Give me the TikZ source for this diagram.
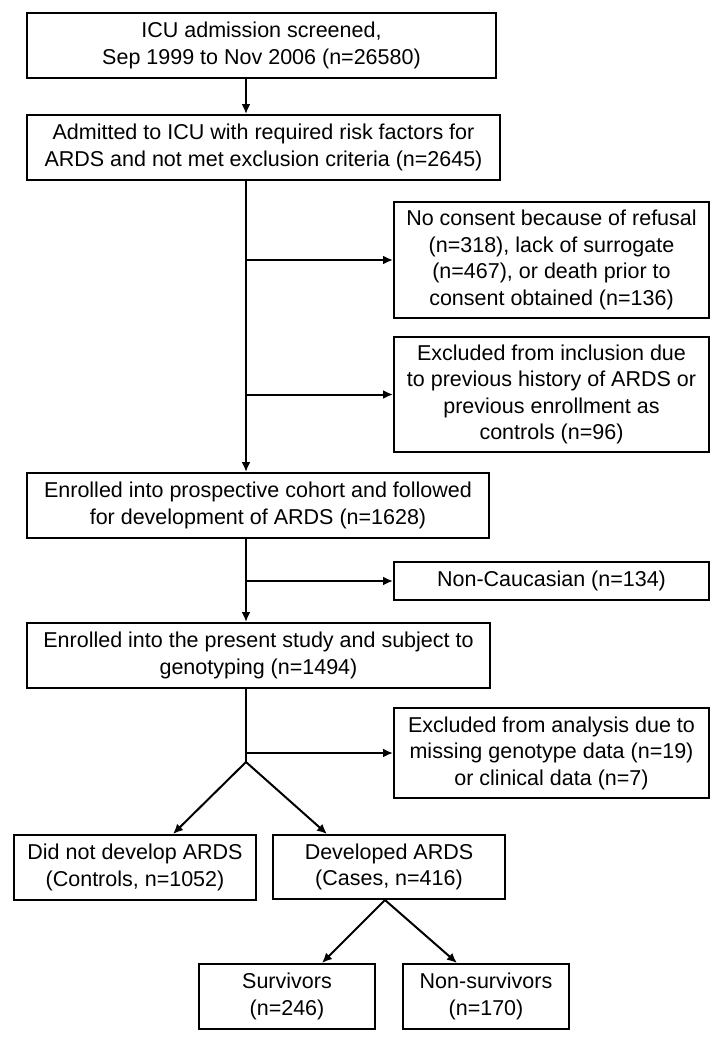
\documentclass[tikz,border=0pt]{standalone}
\usepackage{fontspec}
\setmainfont{Liberation Sans}
\usetikzlibrary{arrows.meta,calc}
\tikzset{font={\fontsize{21.5pt}{26.5pt}\selectfont}}

\begin{document}
\begin{tikzpicture}[x=1pt,y=-1pt,
box/.style={draw,line width=2pt,align=center,inner sep=0pt},
arr/.style={line width=2pt,-{Latex[length=10pt,width=9pt]}}
]
\useasboundingbox (0,0) rectangle (723,1050);

\node[box,minimum width=469pt,minimum height=65pt] (screen) at (261.5,45.5) {ICU admission screened,\\Sep 1999 to Nov 2006 (n=26580)};
\node[box,minimum width=473pt,minimum height=65pt] (admit) at (263.5,147.5) {Admitted to ICU with required risk factors for\\ARDS and not met exclusion criteria (n=2645)};
\node[box,minimum width=315pt,minimum height=116pt] (consent) at (551.5,260) {No consent because of refusal\\(n=318), lack of surrogate\\(n=467), or death prior to\\consent obtained (n=136)};
\node[box,minimum width=315pt,minimum height=115pt] (inclusion) at (551.5,394.5) {Excluded from inclusion due\\to previous history of ARDS or\\previous enrollment as\\controls (n=96)};
\node[box,minimum width=462pt,minimum height=65pt] (cohort) at (258,505.5) {Enrolled into prospective cohort and followed\\for development of ARDS (n=1628)};
\node[box,minimum width=315pt,minimum height=38pt] (noncauc) at (551.5,581) {Non-Caucasian (n=134)};
\node[box,minimum width=463pt,minimum height=65pt] (present) at (258.5,655.5) {Enrolled into the present study and subject to\\genotyping (n=1494)};
\node[box,minimum width=315pt,minimum height=90pt] (analysis) at (551.5,753) {Excluded from analysis due to\\missing genotype data (n=19)\\or clinical data (n=7)};
\node[box,minimum width=242pt,minimum height=65pt] (controls) at (135,867.5) {Did not develop ARDS\\(Controls, n=1052)};
\node[box,minimum width=232pt,minimum height=64pt] (cases) at (389,867) {Developed ARDS\\(Cases, n=416)};
\node[box,minimum width=176pt,minimum height=65pt] (survivors) at (287,996.5) {Survivors\\(n=246)};
\node[box,minimum width=166pt,minimum height=65pt] (nonsurv) at (486,996.5) {Non-survivors\\(n=170)};

\coordinate (spine) at (246,0);
\coordinate (split) at (246,762);

\draw[arr] (screen.south -| spine) -- (admit.north -| spine);
\draw[arr] (admit.south -| spine) -- (cohort.north -| spine);
\draw[arr] (spine |- consent.west) -- (consent.west);
\draw[arr] (spine |- inclusion.west) -- (inclusion.west);
\draw[arr] (cohort.south -| spine) -- (present.north -| spine);
\draw[arr] (spine |- noncauc.west) -- (noncauc.west);
\draw[line width=2pt] (present.south -| spine) -- (split);
\draw[arr] (spine |- analysis.west) -- (analysis.west);
\draw[arr] (split) -- ($(controls.north)+(38,0)$);
\draw[arr] (split) -- ($(cases.north)+(-62,0)$);
\draw[arr] ($(cases.south)+(-4,0)$) -- ($(survivors.north)+(35,0)$);
\draw[arr] ($(cases.south)+(-4,0)$) -- ($(nonsurv.north)+(-29,0)$);

\end{tikzpicture}
\end{document}
